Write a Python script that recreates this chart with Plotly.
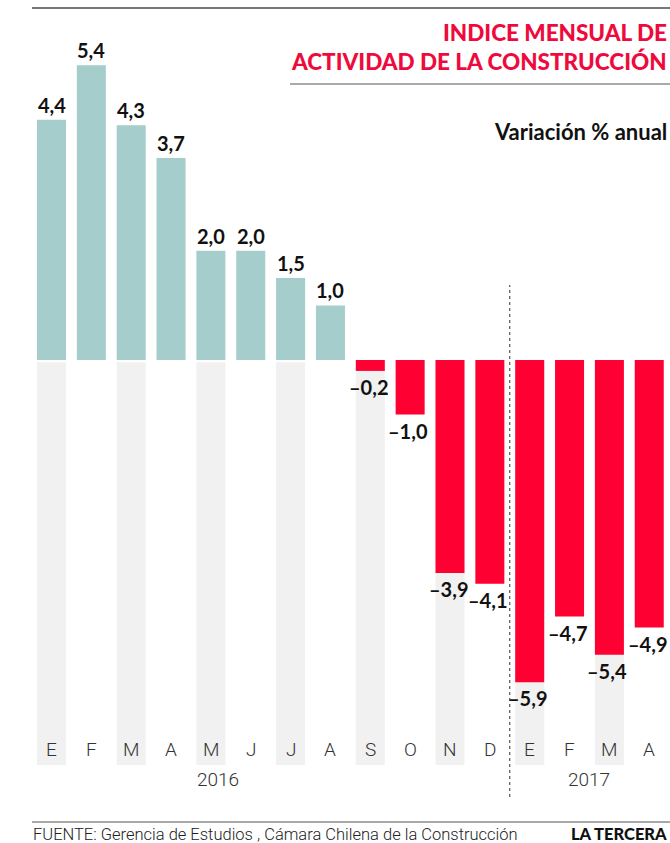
import plotly.graph_objects as go

months = ["E", "F", "M", "A", "M", "J", "J", "A", "S", "O", "N", "D", "E", "F", "M", "A"]
values = [4.4, 5.4, 4.3, 3.7, 2.0, 2.0, 1.5, 1.0, -0.2, -1.0, -3.9, -4.1, -5.9, -4.7, -5.4, -4.9]
years = ["2016", "2017"]
year_centers = [4.18, 13.5]

OFF = 0
W, H = 670 - OFF, 843 - OFF
PX_UNIT = 54.6
ZERO_PX = 360 - OFF
X0_PX = 51.5 - OFF
PITCH = 39.85

y_top = ZERO_PX / PX_UNIT
y_bot = -(H - ZERO_PX) / PX_UNIT
x_left = -X0_PX / PITCH
x_right = (W - X0_PX) / PITCH


def val_at_px(py_page):
    return (ZERO_PX - (py_page - OFF)) / PX_UNIT


def px(x):
    return (x - OFF) / W


def py(y):
    return 1 - (y - OFF) / H


xs = list(range(len(values)))
teal = "#a4cdcc"
red = "#ff0033"
colors = [teal if v >= 0 else red for v in values]

fig = go.Figure()
stripe_idx = [i for i in xs if i % 2 == 0]
stripe_bottom = val_at_px(765)
fig.add_trace(go.Bar(
    x=stripe_idx, y=[stripe_bottom + 0.04] * len(stripe_idx), base=[-0.04] * len(stripe_idx),
    marker=dict(color="#f1f1f1", line=dict(width=0)), width=0.728, hoverinfo="skip", showlegend=False))
fig.add_trace(go.Bar(
    x=xs, y=values, marker=dict(color=colors, line=dict(width=0)), width=0.728, showlegend=False))

lab_font = dict(family="Lato", size=20, color="#111111", weight="bold")
for i, v in zip(xs, values):
    txt = f"{v:.1f}".replace(".", ",").replace("-", "–")
    fig.add_annotation(x=i, y=v, text=txt, showarrow=False, font=lab_font,
                       xref="x", yref="y", yanchor="bottom" if v >= 0 else "top",
                       yshift=1 if v >= 0 else -2, xshift=0 if v >= 0 else -2)

month_y = val_at_px(749)
for i, m in zip(xs, months):
    fig.add_annotation(x=i, y=month_y, text=m, showarrow=False, xref="x", yref="y",
                       font=dict(family="Roboto", size=19, color="#333333", weight=300))
year_y = val_at_px(779)
for c, yl in zip(year_centers, years):
    fig.add_annotation(x=c, y=year_y, text=yl, showarrow=False, xref="x", yref="y",
                       font=dict(family="Roboto", size=19, color="#333333", weight=300))

shapes = [
    dict(type="line", xref="paper", yref="paper", x0=px(32), x1=1, y0=py(8), y1=py(8),
         line=dict(color="#777777", width=2)),
    dict(type="line", xref="paper", yref="paper", x0=px(290), x1=1, y0=py(84), y1=py(84),
         line=dict(color="#555555", width=1.2)),
    dict(type="line", xref="paper", yref="paper", x0=px(32), x1=1, y0=py(822), y1=py(822),
         line=dict(color="#555555", width=1.2)),
    dict(type="line", xref="x", yref="paper", x0=11.5, x1=11.5, y0=py(797), y1=py(285),
         line=dict(color="#333333", width=1, dash="dot")),
]

title_font = dict(family="Lato", size=22.5, color="#ee0a3c", weight=900)
fig.add_annotation(xref="paper", yref="paper", x=px(669), y=py(33), text="INDICE MENSUAL DE",
                   showarrow=False, xanchor="right", yanchor="middle", font=title_font)
fig.add_annotation(xref="paper", yref="paper", x=px(669), y=py(62), text="ACTIVIDAD DE LA CONSTRUCCIÓN",
                   showarrow=False, xanchor="right", yanchor="middle", font=title_font)
fig.add_annotation(xref="paper", yref="paper", x=px(669), y=py(131), text="Variación % anual",
                   showarrow=False, xanchor="right", yanchor="middle",
                   font=dict(family="Lato", size=22, color="#111111", weight="bold"))
fig.add_annotation(xref="paper", yref="paper", x=px(31), y=py(834),
                   text="FUENTE: Gerencia de Estudios , Cámara Chilena de la Construcción",
                   showarrow=False, xanchor="left", yanchor="middle",
                   font=dict(family="Roboto", size=16.5, color="#222222", weight=300))
fig.add_annotation(xref="paper", yref="paper", x=px(669), y=py(834), text="LA TERCERA",
                   showarrow=False, xanchor="right", yanchor="middle",
                   font=dict(family="Lato", size=16.5, color="#111111", weight=900))

fig.update_layout(
    width=W, height=H, margin=dict(l=0, r=0, t=0, b=0),
    paper_bgcolor="white", plot_bgcolor="white", barmode="overlay",
    xaxis=dict(range=[x_left, x_right], visible=False, fixedrange=True),
    yaxis=dict(range=[y_bot, y_top], visible=False, fixedrange=True),
    shapes=shapes,
)
fig.write_html("out.html", config={"displayModeBar": False},
               post_script="document.body.style.margin='0';document.body.style.overflow='hidden';")
